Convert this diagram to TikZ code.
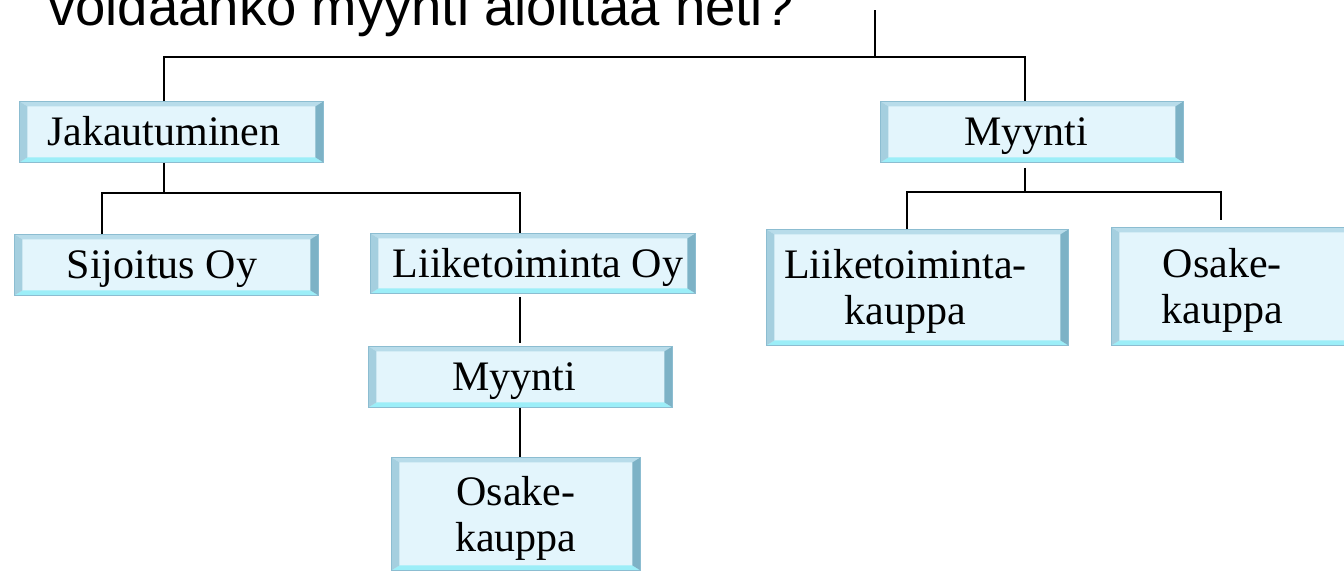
\documentclass[tikz,border=0pt]{standalone}
\usepackage{fontspec}
\setmainfont{Liberation Serif}
\newfontfamily\headfont{Liberation Sans}
\usepackage{tikz}
\definecolor{cFace}{HTML}{E3F5FC}
\definecolor{cTop} {HTML}{B8DCEA}
\definecolor{cLeft}{HTML}{A5CFDF}
\definecolor{cRght}{HTML}{7DB2C6}
\definecolor{cBot} {HTML}{9CEEF8}
\definecolor{cEdge}{HTML}{8CBDD1}
\tikzset{
  bx/.style  ={anchor=north west,inner sep=0pt,align=center,
               font=\fontsize{42}{46}\selectfont,text depth=0pt,
               fill=cFace,draw=cEdge,line width=0.8pt,
               path picture={
                 \fill[cTop] (path picture bounding box.north west)
                   -- (path picture bounding box.north east)
                   -- ([shift={(-8pt,-5pt)}]path picture bounding box.north east)
                   -- ([shift={(8pt,-5pt)}]path picture bounding box.north west) -- cycle;
                 \fill[cBot] (path picture bounding box.south west)
                   -- (path picture bounding box.south east)
                   -- ([shift={(-8pt,5pt)}]path picture bounding box.south east)
                   -- ([shift={(8pt,5pt)}]path picture bounding box.south west) -- cycle;
                 \fill[cLeft] (path picture bounding box.north west)
                   -- ([shift={(8pt,-5pt)}]path picture bounding box.north west)
                   -- ([shift={(8pt,5pt)}]path picture bounding box.south west)
                   -- (path picture bounding box.south west) -- cycle;
                 \fill[cRght] (path picture bounding box.north east)
                   -- ([shift={(-8pt,-5pt)}]path picture bounding box.north east)
                   -- ([shift={(-8pt,5pt)}]path picture bounding box.south east)
                   -- (path picture bounding box.south east) -- cycle;
               }},
  one/.style ={bx,text height=28pt},
  head/.style={font=\headfont\fontsize{54.5}{60}\selectfont,inner sep=0pt},
  ln/.style  ={draw=black,line width=2.4pt},
}

\begin{document}
\begin{tikzpicture}[x=1pt,y=1pt]
\useasboundingbox (0,0) rectangle (1344,-571);
\clip (0,0) rectangle (1344,-571);
\node[head,anchor=base west] (q) at (48,-25) {voidaanko myynti aloittaa heti?};

% texts sit a little off the box centre, over the connector
\node[one,minimum width=304pt,minimum height=61pt] (jak)  at (19,-101)  {Jakautuminen\hspace*{15pt}};
\node[one,minimum width=303pt,minimum height=61pt] (myyA) at (880,-101) {Myynti\hspace*{12pt}};
\node[one,minimum width=304pt,minimum height=61pt] (sij)  at (14,-234)  {Sijoitus Oy\hspace*{9pt}};
\node[one,minimum width=325pt,minimum height=60pt] (liik) at (370,-233) {\hspace*{10pt}Liiketoiminta Oy};
\node[one,minimum width=304pt,minimum height=61pt] (myyB) at (368,-346) {Myynti\hspace*{12pt}};
\node[bx,minimum width=249pt,minimum height=113pt] (osaB)  at (391,-457)  {Osake-\\kauppa};
\node[bx,minimum width=302pt,minimum height=116pt] (liikk) at (766,-229)
  {Liiketoiminta-\hspace*{24pt}\\kauppa\hspace*{24pt}};
\node[bx,minimum width=250pt,minimum height=118pt] (osaA)  at (1111,-227)
  {Osake-\hspace*{28pt}\\kauppa\hspace*{28pt}};

\coordinate (qt) at (875,-10);
\coordinate (b1) at (164,-57);
\coordinate (b2) at (1025,-57);
\draw[ln] (qt) -- (qt |- b1);
\draw[ln] (b1 |- jak.north) -- (b1) -- (b2) -- (b2 |- myyA.north);

\coordinate (c1) at (102,-193);
\coordinate (c2) at (520,-193);
\draw[ln] (b1 |- jak.south) -- (b1 |- c1);
\draw[ln] (c1 |- sij.north) -- (c1) -- (c2) -- (c2 |- liik.north);
\draw[ln,shorten <=3pt,shorten >=3pt] (c2 |- liik.south) -- (c2 |- myyB.north);
\draw[ln] (c2 |- myyB.south) -- (c2 |- osaB.north);

\coordinate (d1) at (907,-192);
\coordinate (d2) at (1221,-192);
\draw[ln,shorten <=5pt] (b2 |- myyA.south) -- (b2 |- d1);
\draw[ln,shorten >=7pt] (d1 |- liikk.north) -- (d1) -- (d2) -- (d2 |- osaA.north);
\end{tikzpicture}
\end{document}
